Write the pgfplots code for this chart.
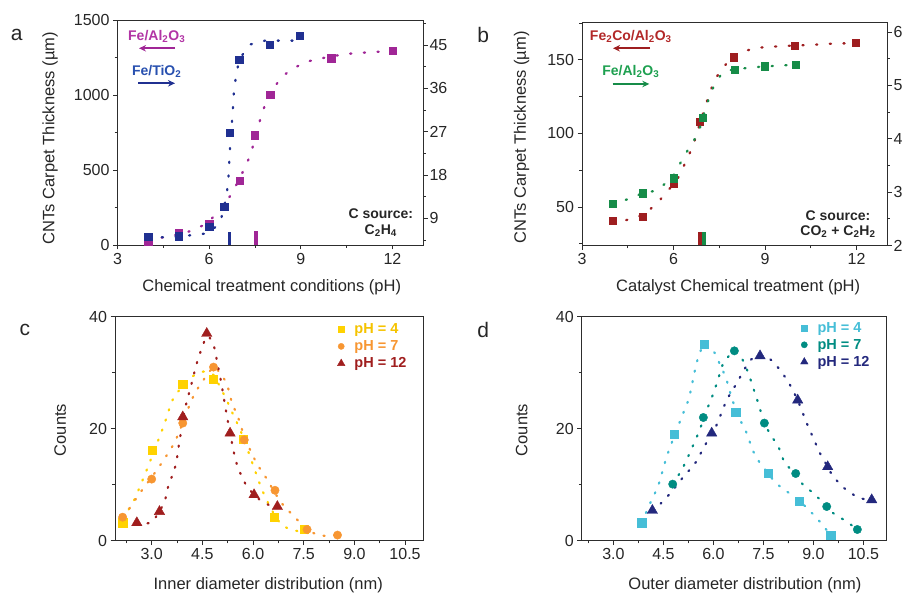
\documentclass[border=0pt]{standalone}
\usepackage{fontspec}
\setmainfont{Liberation Sans}
\usepackage{pgfplots}
\pgfplotsset{compat=1.18}
\usetikzlibrary{arrows.meta}

\definecolor{magA}{RGB}{160,38,150}
\definecolor{magT}{RGB}{178,52,165}
\definecolor{bluA}{RGB}{32,48,145}
\definecolor{bluT}{RGB}{40,80,175}
\definecolor{redB}{RGB}{158,30,32}
\definecolor{redT}{RGB}{178,40,40}
\definecolor{grnB}{RGB}{22,140,72}
\definecolor{grnT}{RGB}{30,160,80}
\definecolor{yelC}{RGB}{255,210,0}
\definecolor{yelT}{RGB}{245,195,0}
\definecolor{oraC}{RGB}{247,150,50}
\definecolor{drC}{RGB}{160,30,30}
\definecolor{cyaD}{RGB}{70,190,215}
\definecolor{tealD}{RGB}{0,140,130}
\definecolor{navD}{RGB}{35,40,125}
\definecolor{axc}{RGB}{45,45,45}

\pgfplotsset{
 base/.style={
  scale only axis, anchor=south west, clip=false,
  axis line style={axc, line width=0.9pt},
  every tick/.style={axc, line width=0.9pt},
  tick align=outside, major tick length=4.5pt, minor tick length=2.8pt,
  tick label style={font=\fontsize{16}{18}\selectfont, text=black!85},
  label style={font=\fontsize{16.5}{19}\selectfont, text=black!85},
  /pgf/number format/assume math mode=true,
  /pgf/number format/1000 sep={},
 },
 dotl/.style={dash pattern=on 1.2pt off 12.5pt, line cap=round, line width=2.3pt},
 dotc/.style={dash pattern=on 1.2pt off 9.5pt, line cap=round, line width=2.2pt},
 legc/.style={legend style={draw=none, fill=none, anchor=north west,
   font=\bfseries\fontsize{14.5}{16}\selectfont, inner sep=0pt, row sep=4.5pt,
   nodes={inner xsep=1.5pt, inner ysep=0.5pt}}, legend cell align=left,
   legend image code/.code={\draw[##1] plot coordinates {(0,0)};}},
}

\begin{document}
\begin{tikzpicture}
\path[use as bounding box] (0,0) rectangle (902pt,593pt);

% ---------------- panel a ----------------
\begin{axis}[base, at={(117.5pt,348pt)}, width=305.5pt, height=225pt,
  xmin=3, xmax=13, ymin=0, ymax=1500, xtick={3,6,9,12}, minor xtick={4.5,7.5,10.5},
  ytick={0,500,1000,1500}, minor ytick={250,750,1250}, tick pos=left,
  xlabel={Chemical treatment conditions (pH)}, ylabel={CNTs Carpet Thickness (µm)},
  xlabel style={at={(axis description cs:0.505,-0.188)}, anchor=center},
  ylabel style={at={(axis description cs:-0.221,0.475)}, anchor=center}]
\addplot[magA, dotl, smooth, tension=0.4] coordinates {
 (4.0,38) (4.51,51) (5.0,72) (5.49,100) (5.98,155) (6.4,250) (6.74,344) (7.2,529)
 (7.39,629) (7.66,829) (7.83,933) (8.1,1040) (8.42,1127) (8.93,1196) (9.4,1233)
 (10.38,1270) (10.87,1280) (11.3,1285) (12,1295)};
\addplot[only marks, mark=square*, mark size=3.7pt, magA] coordinates {
 (4,22) (5,78) (6,140) (7,427) (7.5,733) (8,1000) (10,1244) (12,1295)};
\addplot[magA, line width=3.3pt] coordinates {(7.53,0) (7.53,90)};
\addplot[bluA, line width=3.3pt] coordinates {(6.67,0) (6.67,88)};
\end{axis}
\begin{axis}[base, at={(117.5pt,348pt)}, width=305.5pt, height=225pt,
  xmin=3, xmax=13, ymin=3.46, ymax=50.19, axis x line=none, axis y line*=right,
  yticklabel style={xshift=-1.5pt},
  ytick={9,18,27,36,45}, minor ytick={4.5,13.5,22.5,31.5,40.5,49.5}]
\addplot[bluA, dotl] coordinates {
 (4.0,5.1) (4.51,5.05) (5.0,5.2) (5.49,5.55) (5.98,5.9) (6.36,8.1) (6.49,11.4)
 (6.58,14.2) (6.63,17.3) (6.68,23.2) (6.76,30.1) (6.79,33.2) (6.82,36.2) (6.9,39.1)
 (6.98,42.0) (7.34,45.1) (7.83,45.9) (8.28,45.9) (8.74,45.9) (8.97,46.9)};
\addplot[only marks, mark=square*, mark size=3.7pt, bluA] coordinates {
 (4,5.2) (5,5.3) (6,7.3) (6.49,11.4) (6.68,26.8) (6.98,42.0) (7.99,45.0) (8.97,46.9)};
\end{axis}

% ---------------- panel b ----------------
\begin{axis}[base, at={(582pt,347.5pt)}, width=305pt, height=223pt,
  xmin=3, xmax=13, ymin=23.9, ymax=175.4, xtick={3,6,9,12}, minor xtick={4.5,7.5,10.5},
  ytick={50,100,150}, minor ytick={25,75,125,175}, tick pos=left,
  xlabel={Catalyst Chemical treatment (pH)}, ylabel={CNTs Carpet Thickness (µm)},
  xlabel style={at={(axis description cs:0.512,-0.188)}, anchor=center},
  ylabel style={at={(axis description cs:-0.198,0.485)}, anchor=center}]
\addplot[redB, dotl, smooth, tension=0.4] coordinates {
 (4,40.5) (4.46,41.2) (5.0,45) (5.45,52.5) (5.88,62.7) (6.21,71.8) (6.43,82.4)
 (6.63,91) (6.76,100) (7.04,118.2) (7.2,128.4) (7.42,138.6) (7.8,148.8) (8.3,155.6)
 (8.74,158) (9.23,159) (10.7,160.4) (11.2,161) (11.97,161.4)};
\addplot[only marks, mark=square*, mark size=3.6pt, redB] coordinates {
 (4,40.5) (5,43.4) (6,66.1) (6.85,108) (7.97,151.8) (9.97,159.7) (11.97,161.4)};
\addplot[redB, line width=3.8pt] coordinates {(6.86,23.9) (6.86,33)};
\addplot[grnB, line width=3.8pt] coordinates {(6.99,23.9) (6.99,33)};
\end{axis}
\begin{axis}[base, at={(582pt,347.5pt)}, width=305pt, height=223pt,
  xmin=3, xmax=13, ymin=2, ymax=6.18, axis x line=none, axis y line*=right,
  yticklabel style={xshift=-1.5pt},
  ytick={2,3,4,5,6}, minor ytick={2.5,3.5,4.5,5.5}]
\addplot[grnB, dotl, smooth, tension=0.4] coordinates {
 (4,2.79) (4.46,2.86) (5,2.98) (5.45,3.04) (5.95,3.28) (6.21,3.53) (6.43,3.75)
 (6.8,4.1) (6.96,4.39) (7.26,4.91) (7.64,5.25) (8.2,5.31) (8.6,5.34) (9.7,5.38) (10,5.39)};
\addplot[only marks, mark=square*, mark size=3.6pt, grnB] coordinates {
 (4,2.79) (5,2.98) (6,3.26) (6.96,4.39) (8,5.30) (9,5.36) (10,5.39)};
\end{axis}

% ---------------- panel c ----------------
\begin{axis}[base, legc, at={(115pt,52.3pt)}, width=308.3pt, height=224pt,
  xmin=1.914, xmax=11.04, ymin=0, ymax=40, xtick={3,4.5,6,7.5,9,10.5},
  minor xtick={2.25,3.75,5.25,6.75,8.25,9.75}, ytick={0,20,40}, minor ytick={10,30},
  tick pos=left,
  xticklabel style={/pgf/number format/.cd, fixed, fixed zerofill, precision=1},
  xlabel={Inner diameter distribution (nm)}, ylabel={Counts},
  xlabel style={at={(axis description cs:0.497,-0.198)}, anchor=center},
  ylabel style={at={(axis description cs:-0.178,0.494)}, anchor=center},
  legend style={at={(axis description cs:0.721,0.972)}}]
\addplot[yelC, dotc, smooth, tension=0.4, forget plot] coordinates {
 (2.14,4) (2.46,7) (2.85,12.6) (3.35,20.4) (3.64,25.4) (4.13,29) (4.53,30.2) (4.83,29.6)
 (5.02,27.5) (5.22,25.1) (5.42,22.4) (5.62,19.8) (5.86,15.9) (6.16,10.8) (6.31,8.5)
 (6.55,5.5) (6.85,2.8) (7.19,1.9) (7.6,1.4) (7.9,1.2)};
\addplot[oraC, dotc, smooth, tension=0.4, forget plot] coordinates {
 (2.14,4.2) (2.31,5.5) (2.65,8.5) (3.15,12.6) (3.69,17.7) (4.18,25.1) (4.43,27.8)
 (4.83,31) (5.02,29.9) (5.22,28.1) (5.37,24.8) (5.62,21) (5.74,18.5) (6.11,13.8)
 (6.4,11.1) (6.65,8.5) (6.9,6.3) (7.19,4.5) (7.6,2.0) (8.0,0.9) (8.5,1.0)};
\addplot[drC, dotc, smooth, tension=0.4, forget plot] coordinates {
 (2.56,3.2) (3.0,3.3) (3.37,6.8) (3.47,9.3) (3.71,13.5) (3.81,17.3) (3.99,23.6)
 (4.2,28.5) (4.35,32) (4.63,36.5) (4.83,35) (4.95,31.5) (5.05,28.5) (5.24,21.8)
 (5.47,14.7) (5.62,12.1) (5.83,9.6) (6.2,7.3) (6.5,6.3) (6.72,6.1)};
\addplot[only marks, mark=square*, mark size=4.1pt, yelC, legend image post style={mark size=3pt}] coordinates {
 (2.14,3.2) (3.02,16.1) (3.92,28.0) (4.83,28.9) (5.71,18.1) (6.62,4.2) (7.51,2.0)};
\addlegendentry{\hspace{8pt}\textcolor{yelT}{pH = 4}}
\addplot[only marks, mark=*, mark size=4.2pt, oraC, legend image post style={mark size=3.1pt}] coordinates {
 (2.14,4.2) (3.0,11.0) (3.92,21.0) (4.83,31.0) (5.74,18.0) (6.65,9.0) (7.6,2.0) (8.5,1.0)};
\addlegendentry{\hspace{8pt}\textcolor{oraC}{pH = 7}}
\addplot[only marks, mark=triangle*, mark size=6pt, drC, legend image post style={mark size=4.3pt}] coordinates {
 (2.56,3.2) (3.23,5.2) (3.92,22.1) (4.63,37.0) (5.32,19.2) (6.03,8.2) (6.72,6.1)};
\addlegendentry{\hspace{8pt}\textcolor{drC}{pH = 12}}
\end{axis}

% ---------------- panel d ----------------
\begin{axis}[base, legc, at={(581.7pt,52.3pt)}, width=305pt, height=224pt,
  xmin=2.05, xmax=11.2, ymin=0, ymax=40, xtick={3,4.5,6,7.5,9,10.5},
  minor xtick={2.25,3.75,5.25,6.75,8.25,9.75}, ytick={0,20,40}, minor ytick={10,30},
  tick pos=left,
  xticklabel style={/pgf/number format/.cd, fixed, fixed zerofill, precision=1},
  xlabel={Outer diameter distribution (nm)}, ylabel={Counts},
  xlabel style={at={(axis description cs:0.535,-0.198)}, anchor=center},
  ylabel style={at={(axis description cs:-0.197,0.494)}, anchor=center},
  legend style={at={(axis description cs:0.717,0.979)}}]
\addplot[cyaD, dotc, smooth, tension=0.4, forget plot] coordinates {
 (3.85,3.2) (4.15,7.3) (4.35,9.9) (4.6,15) (4.9,19.8) (5.15,23.6) (5.28,25.7) (5.5,31.8)
 (5.72,35.1) (6.0,33.9) (6.18,31.7) (6.38,29) (6.55,25.5) (6.7,23) (6.85,21) (7.0,19.2)
 (7.2,15.9) (7.45,13.4) (7.65,12.1) (7.85,10.4) (8.25,8.6) (8.58,7.1) (8.85,5.6)
 (9.15,3.7) (9.52,1.0)};
\addplot[tealD, dotc, smooth, tension=0.4, forget plot] coordinates {
 (4.78,10.1) (5.1,13.2) (5.55,19.2) (5.8,23.3) (6.0,26.3) (6.15,29) (6.3,31.7) (6.63,33.9)
 (6.85,32.6) (7.05,29.9) (7.2,27.2) (7.35,24.5) (7.53,21) (7.75,18.6) (7.95,16.8)
 (8.15,13.8) (8.47,12) (8.7,9.9) (9.0,8.5) (9.4,6.1) (9.6,4.9) (10.0,3.4) (10.32,2.0)};
\addplot[navD, dotc, smooth, tension=0.4, forget plot] coordinates {
 (4.17,5.4) (4.35,6.2) (4.75,8.75) (5.1,11.4) (5.45,13.8) (5.7,16.5) (5.95,19.2) (6.1,20.7)
 (6.4,25.1) (6.7,28.1) (6.95,30.8) (7.2,32.7) (7.6,32.9) (8.0,30.5) (8.3,27.8) (8.55,24.8)
 (8.8,21) (9.0,18.3) (9.2,15.6) (9.43,13.2) (9.6,11.4) (10.0,9) (10.4,7.6) (10.75,7.3)};
\addplot[only marks, mark=square*, mark size=4.1pt, cyaD, legend image post style={mark size=3pt}] coordinates {
 (3.85,3.2) (4.82,19.0) (5.72,35.1) (6.67,22.9) (7.65,12.1) (8.58,7.1) (9.52,1.0)};
\addlegendentry{\hspace{8pt}\textcolor{cyaD}{pH = 4}}
\addplot[only marks, mark=*, mark size=4.2pt, tealD, legend image post style={mark size=3.1pt}] coordinates {
 (4.78,10.1) (5.7,22.0) (6.63,33.9) (7.53,21.0) (8.47,12.0) (9.4,6.1) (10.32,2.0)};
\addlegendentry{\hspace{8pt}\textcolor{tealD}{pH = 7}}
\addplot[only marks, mark=triangle*, mark size=6pt, navD, legend image post style={mark size=4.3pt}] coordinates {
 (4.17,5.4) (5.95,19.2) (7.4,33.0) (8.53,25.1) (9.43,13.2) (10.75,7.3)};
\addlegendentry{\hspace{8pt}\textcolor{navD}{pH = 12}}
\end{axis}

% ---------------- annotations ----------------
\begin{scope}[every node/.style={font=\bfseries\fontsize{14}{15.5}\selectfont}]
\node[magT] at (156.7pt,556.3pt) {Fe/Al\textsubscript{2}O\textsubscript{3}};
\node[bluT] at (156.7pt,521.3pt) {Fe/TiO\textsubscript{2}};
\node[text=black!85, align=center] at (380.8pt,370.5pt) {C source:\\C\textsubscript{2}H\textsubscript{4}};
\node[redT] at (630.8pt,556.3pt) {Fe\textsubscript{2}Co/Al\textsubscript{2}O\textsubscript{3}};
\node[grnT] at (630.8pt,521.3pt) {Fe/Al\textsubscript{2}O\textsubscript{3}};
\node[text=black!85, align=center] at (838pt,369pt) {C source:\\CO\textsubscript{2} + C\textsubscript{2}H\textsubscript{2}};
\end{scope}
\draw[magA, line width=2pt, -{Stealth[length=7pt,width=6.5pt]}] (175pt,544.7pt) -- (139pt,544.7pt);
\draw[bluA, line width=2pt, -{Stealth[length=7pt,width=6.5pt]}] (138.3pt,509.7pt) -- (175pt,509.7pt);
\draw[redB, line width=2pt, -{Stealth[length=7pt,width=6.5pt]}] (650pt,544.7pt) -- (613pt,544.7pt);
\draw[grnB, line width=2pt, -{Stealth[length=7pt,width=6.5pt]}] (612.7pt,509pt) -- (649.3pt,509pt);

\begin{scope}[every node/.style={font=\fontsize{21}{23}\selectfont, text=black!85}]
\node at (16.7pt,558pt) {a};
\node at (483.3pt,558pt) {b};
\node at (25pt,263pt) {c};
\node at (483.3pt,263pt) {d};
\end{scope}
\end{tikzpicture}
\end{document}
